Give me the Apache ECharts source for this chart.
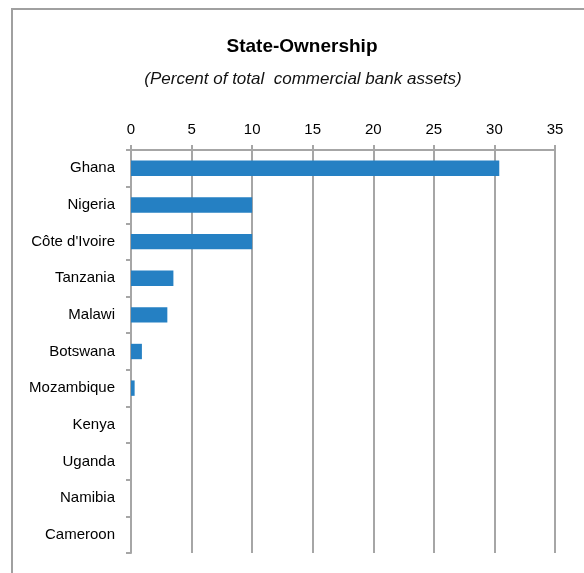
<!DOCTYPE html>
<html>
<head>
<meta charset="utf-8">
<script src="https://cdn.jsdelivr.net/npm/echarts@6/dist/echarts.min.js"></script>
<style>
  html, body { margin: 0; padding: 0; background: #fff; }
  #chart { width: 584px; height: 573px; }
</style>
</head>
<body>
<div id="chart"></div>
<script>
// State ownership of commercial bank assets, by country (percent)
const countries = ['Ghana', 'Nigeria', "Côte d'Ivoire", 'Tanzania', 'Malawi', 'Botswana',
  'Mozambique', 'Kenya', 'Uganda', 'Namibia', 'Cameroon'];
const stateShare = [30.4, 10.0, 10.0, 3.5, 3.0, 0.9, 0.3, 0, 0, 0, 0];
const xTicks = [0, 5, 10, 15, 20, 25, 30, 35];

const FONT = "'Liberation Sans', 'Noto Sans', sans-serif";
const GRID_GRAY = '#a6a6a6';

const chart = echarts.init(document.getElementById('chart'), null, { renderer: 'canvas' });

chart.setOption({
  backgroundColor: '#fff',
  animation: false,
  title: [
    {
      text: 'State-Ownership',
      left: 297, top: 32, textAlign: 'center',
      textStyle: { fontFamily: FONT, fontSize: 19, fontWeight: 'bold', color: '#000' }
    },
    {
      text: '(Percent of total  commercial bank assets)',
      left: 298, top: 66, textAlign: 'center',
      textStyle: { fontFamily: FONT, fontSize: 17, fontStyle: 'italic', fontWeight: 'normal', color: '#111' }
    }
  ],
  graphic: [
    {
      type: 'rect',
      shape: { x: 12, y: 9, width: 580, height: 580 },
      style: { fill: 'none', stroke: '#a0a0a0', lineWidth: 2 },
      silent: true, z: -1
    }
  ],
  grid: { left: 131, top: 150, right: 29, bottom: 20 },
  xAxis: {
    type: 'value',
    position: 'top',
    min: xTicks[0],
    max: xTicks[xTicks.length - 1],
    interval: xTicks[1] - xTicks[0],
    axisLine: { show: true, lineStyle: { color: GRID_GRAY, width: 2 } },
    axisTick: { show: true, length: 5, lineStyle: { color: GRID_GRAY, width: 2 } },
    axisLabel: { fontFamily: FONT, fontSize: 15, color: '#000', margin: 13 },
    splitLine: { show: true, lineStyle: { color: GRID_GRAY, width: 2 } }
  },
  yAxis: {
    type: 'category',
    data: countries,
    inverse: true,
    axisLine: { show: true, lineStyle: { color: GRID_GRAY, width: 2 } },
    axisTick: { show: true, length: 5, lineStyle: { color: GRID_GRAY, width: 2 } },
    axisLabel: { fontFamily: FONT, fontSize: 15, color: '#000', margin: 16, padding: [3, 0, 0, 0] }
  },
  series: [
    {
      type: 'bar',
      data: stateShare,
      barCategoryGap: '58%',
      itemStyle: { color: '#2580c3' }
    }
  ]
});
</script>
</body>
</html>
